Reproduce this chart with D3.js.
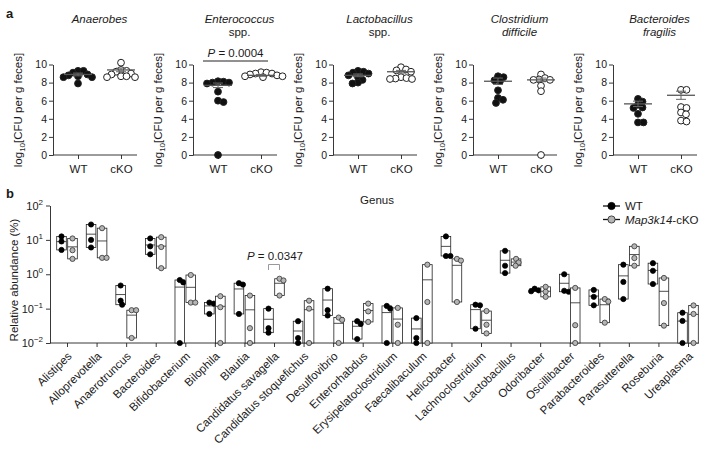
<!DOCTYPE html>
<html><head><meta charset="utf-8">
<script src="https://cdn.jsdelivr.net/npm/d3@7"></script>
<style>
body{margin:0;background:#fff;}
text{font-family:"Liberation Sans",Arial,Helvetica,sans-serif;fill:#1a1a1a;}
</style></head><body>
<svg id="c" width="720" height="453"></svg>
<script>
// ---------- Panel a data ----------
const aTitles = [["Anaerobes"], ["Enterococcus", "spp."], ["Lactobacillus", "spp."], ["Clostridium", "difficile"], ["Bacteroides", "fragilis"]];
const aGroups = ["WT", "cKO"];
const aTicks = [0, 2, 4, 6, 8, 10];
const aWT = [
  [9.3, 9.3, 9.1, 8.9, 8.8, 8.7, 8.6, 8.6, 7.9],
  [8.1, 8.0, 8.0, 7.9, 8.15, 7.0, 6.0, 5.85, 0.0],
  [9.3, 9.2, 9.1, 9.0, 8.8, 8.6, 8.3, 8.0, 7.9],
  [8.6, 8.7, 8.15, 8.25, 7.15, 6.3, 6.1, 5.75],
  [6.2, 5.9, 5.55, 5.25, 5.2, 4.55, 3.6, 3.6]
];
const aKO = [
  [10.2, 9.4, 9.3, 9.2, 9.0, 8.9, 8.7, 8.7, 8.6, 8.6],
  [9.15, 9.0, 9.0, 9.1, 8.9, 8.7, 8.7, 8.6, 8.8],
  [9.7, 9.45, 9.35, 9.2, 8.6, 8.5, 8.45, 8.4, 8.4],
  [8.9, 8.5, 8.35, 8.3, 8.3, 7.65, 7.05, 0.0],
  [7.2, 7.2, 5.2, 5.3, 4.5, 4.7, 3.7, 3.8]
];
const aWTmean = [8.9, 7.7, 8.8, 8.15, 5.65];
const aKOmean = [9.4, 8.8, 9.2, 8.3, 6.6];
const aWTsem = [0.15, 0.25, 0.15, 0.35, 0.3];
const aKOsem = [0.2, 0.1, 0.15, 0.2, 0.45];
const aPvalue = ["", "0.0004", "", "", ""];

// ---------- Panel b data ----------
const genera = ["Alistipes", "Alloprevotella", "Anaerotruncus", "Bacteroides", "Bifidobacterium", "Bilophila", "Blautia",
  "Candidatus savagella", "Candidatus stoquefichus", "Desulfovibrio", "Enterorhabdus", "Erysipelatoclostridium",
  "Faecalibaculum", "Helicobacter", "Lachnoclostridium", "Lactobacillus", "Odoribacter", "Oscillibacter",
  "Parabacteroides", "Parasutterella", "Roseburia", "Ureaplasma"];
const bWT = [
  [12.6, 9.0, 5.1], [28, 10, 6], [0.47, 0.17, 0.13], [11, 6.5, 3.8], [0.68, 0.58, 0.01], [0.15, 0.14, 0.07],
  [0.55, 0.5, 0.07], [0.1, 0.02, 0.027], [0.043, 0.014, 0.01], [0.38, 0.09, 0.063], [0.043, 0.036, 0.013],
  [0.12, 0.1, 0.01], [0.053, 0.014, 0.01], [12.6, 3.4, 3.4], [0.13, 0.125, 0.026], [4.8, 1.77, 1.08],
  [0.38, 0.32, 0.34], [1.0, 0.31, 0.33], [0.35, 0.22, 0.125], [1.9, 0.6, 0.19], [2.1, 1.26, 0.52], [0.076, 0.044, 0.01]
];
const bKO = [
  [11, 5, 2.8], [21.9, 3, 3], [0.09, 0.09, 0.014], [12, 6.2, 1.5], [0.95, 0.15, 0.15], [0.23, 0.11, 0.01],
  [0.24, 0.027, 0.01], [0.74, 0.66, 0.24], [0.17, 0.1, 0.01], [0.055, 0.047, 0.01], [0.14, 0.083, 0.041],
  [0.105, 0.034, 0.01], [1.9, 0.156, 0.01], [2.8, 2.5, 0.156], [0.085, 0.034, 0.019], [2.8, 2.2, 1.77],
  [0.43, 0.31, 0.22], [0.4, 0.033, 0.01], [0.19, 0.16, 0.039], [6.5, 2.95, 1.77], [0.78, 0.145, 0.032], [0.124, 0.07, 0.01]
];
const bTicks = [0.01, 0.1, 1, 10, 100];
const bTickExp = ["\u22122", "\u22121", "0", "1", "2"];
const bPvalue = { genus: "Candidatus savagella", text: "0.0347" };
const legendLabels = ["WT", "Map3k14-cKO"];

// ---------- drawing ----------
const svg = d3.select("#c");

function swarm(vals, y, cx, minDist, step) {
  const placed = [];
  const order = vals.map((v, i) => ({ v, i })).sort((a, b) => b.v - a.v);
  order.forEach(o => {
    const py = y(o.v);
    let px = cx;
    for (let k = 0; k < 400; k++) {
      const off = k === 0 ? 0 : (k % 2 === 1 ? 1 : -1) * Math.ceil(k / 2) * step;
      const cand = cx + off;
      if (placed.every(p => (p.x - cand) ** 2 + (p.y - py) ** 2 >= minDist ** 2)) { px = cand; break; }
    }
    placed.push({ x: px, y: py, v: o.v });
  });
  return placed;
}

// Panel labels
svg.append("text").attr("x", 6).attr("y", 18).attr("font-weight", "bold").attr("font-size", 13).text("a");
svg.append("text").attr("x", 6).attr("y", 198).attr("font-weight", "bold").attr("font-size", 13).text("b");

const yA = d3.scaleLinear().domain([0, 10]).range([155, 64.5]);
const xA = d3.scalePoint().domain(aGroups).range([25, 68]);

aTitles.forEach((t, i) => {
  const g = svg.append("g").attr("transform", `translate(${53 + 140 * i},0)`);
  const ya = g.append("g").call(d3.axisLeft(yA).tickValues(aTicks).tickSize(4).tickSizeOuter(0).tickPadding(2));
  ya.selectAll("text").attr("font-size", 10.5).style("font-family", "'Liberation Sans',Arial,sans-serif").attr("fill", "#1a1a1a");
  ya.selectAll("line,path").attr("stroke", "#222").attr("stroke-width", 0.9);
  g.append("line").attr("x1", 0).attr("x2", 84).attr("y1", 155).attr("y2", 155).attr("stroke", "#222").attr("stroke-width", 0.9);
  const xa = g.append("g").attr("transform", "translate(0,155)").call(d3.axisBottom(xA).tickSize(4).tickPadding(6));
  xa.select(".domain").remove();
  xa.selectAll("line").attr("stroke", "#222").attr("stroke-width", 0.9);
  xa.selectAll("text").attr("font-size", 11.5).style("font-family", "'Liberation Sans',Arial,sans-serif").attr("fill", "#1a1a1a");
  const yl = g.append("text").attr("transform", `translate(-31,110) rotate(-90)`).attr("text-anchor", "middle").attr("font-size", 11.5);
  yl.append("tspan").text("log");
  yl.append("tspan").attr("font-size", 8).attr("dy", 3).text("10");
  yl.append("tspan").attr("dy", -3).text("[CFU per g feces]");
  const cxm = (xA("WT") + xA("cKO")) / 2;
  t.forEach((line, j) => {
    g.append("text").attr("x", cxm).attr("y", 23 + j * 13).attr("text-anchor", "middle").attr("font-size", 11.5)
      .attr("font-style", line === "spp." ? "normal" : "italic").text(line);
  });
  if (aPvalue[i]) {
    g.append("line").attr("x1", 10).attr("x2", 75).attr("y1", 61).attr("y2", 61).attr("stroke", "#222").attr("stroke-width", 1);
    const pt = g.append("text").attr("x", 42.5).attr("y", 57).attr("text-anchor", "middle").attr("font-size", 11.5);
    pt.append("tspan").attr("font-style", "italic").text("P");
    pt.append("tspan").text(" = " + aPvalue[i]);
  }
  [[aWT[i], aWTmean[i], aWTsem[i], "WT"], [aKO[i], aKOmean[i], aKOsem[i], "cKO"]].forEach(([vals, m, s, grp]) => {
    const cx = xA(grp);
    const pts = swarm(vals, yA, cx, 5.2, 0.5);
    g.selectAll(null).data(pts).enter().append("circle")
      .attr("cx", d => d.x).attr("cy", d => d.y).attr("r", 3.4)
      .attr("fill", grp === "WT" ? "#111" : "#fff").attr("stroke", "#222").attr("stroke-width", 1);
    g.append("line").attr("x1", cx - 14).attr("x2", cx + 14).attr("y1", yA(m)).attr("y2", yA(m)).attr("stroke", "#555").attr("stroke-width", 1.3);
    g.append("line").attr("x1", cx).attr("x2", cx).attr("y1", yA(m - s)).attr("y2", yA(m + s)).attr("stroke", "#666").attr("stroke-width", 1);
    [m - s, m + s].forEach(v => g.append("line").attr("x1", cx - 5).attr("x2", cx + 5).attr("y1", yA(v)).attr("y2", yA(v)).attr("stroke", "#666").attr("stroke-width", 1));
  });
});

// ---------- Panel b ----------
const yB = d3.scaleLog().domain([0.01, 100]).range([343, 205.5]);
const xB = d3.scalePoint().domain(genera).range([67, 688]);
const gb = svg.append("g");
const yb = gb.append("g").attr("transform", "translate(50,0)").call(d3.axisLeft(yB).tickValues(bTicks).tickSize(4).tickSizeOuter(0).tickFormat(""));
yb.selectAll("line,path").attr("stroke", "#222").attr("stroke-width", 0.9);
bTicks.forEach((v, i) => {
  const t = gb.append("text").attr("x", 43).attr("y", yB(v) + 4).attr("text-anchor", "end").attr("font-size", 11);
  t.append("tspan").text("10");
  t.append("tspan").attr("font-size", 8).attr("dy", -5).text(bTickExp[i]);
});
gb.append("line").attr("x1", 50).attr("x2", 699).attr("y1", 343).attr("y2", 343).attr("stroke", "#222").attr("stroke-width", 0.9);
const xb = gb.append("g").attr("transform", "translate(0,343)").call(d3.axisBottom(xB).tickSize(4).tickFormat(""));
xb.select(".domain").remove();
xb.selectAll("line").attr("stroke", "#222").attr("stroke-width", 0.9);
genera.forEach(gn => {
  gb.append("text").attr("transform", `translate(${xB(gn) + 5.5},357) rotate(-44)`).attr("text-anchor", "end")
    .attr("font-size", 11.5).text(gn);
});
gb.append("text").attr("transform", "translate(18,280) rotate(-90)").attr("text-anchor", "middle").attr("font-size", 11.5).text("Relative abundance (%)");
gb.append("text").attr("x", 377).attr("y", 204).attr("text-anchor", "middle").attr("font-size", 11.5).text("Genus");

genera.forEach((gn, i) => {
  [[bWT[i], -5.5, "WT"], [bKO[i], 5.5, "cKO"]].forEach(([vals, off, grp]) => {
    const cx = xB(gn) + off;
    const mn = d3.min(vals), mx = d3.max(vals), mean = d3.mean(vals);
    gb.append("rect").attr("x", cx - 4.8).attr("width", 9.6).attr("y", yB(mx)).attr("height", yB(mn) - yB(mx))
      .attr("fill", "#fff").attr("stroke", "#222").attr("stroke-width", 0.8);
    gb.append("line").attr("x1", cx - 4.8).attr("x2", cx + 4.8).attr("y1", yB(mean)).attr("y2", yB(mean)).attr("stroke", "#222").attr("stroke-width", 0.8);
    const pts = swarm(vals, yB, cx, 4.2, 0.5);
    gb.selectAll(null).data(pts).enter().append("circle")
      .attr("cx", d => d.x).attr("cy", d => d.y).attr("r", 2.6)
      .attr("fill", grp === "WT" ? "#000" : "#b5b5b5").attr("stroke", grp === "WT" ? "#000" : "#333").attr("stroke-width", 0.8);
  });
});

{
  const bxp = xB(bPvalue.genus);
  gb.append("path").attr("d", `M${bxp - 5.5},270V264.5H${bxp + 5.5}V270`).attr("fill", "none").attr("stroke", "#999").attr("stroke-width", 1);
  const pt = gb.append("text").attr("x", 247).attr("y", 260).attr("font-size", 11.5);
  pt.append("tspan").attr("font-style", "italic").text("P");
  pt.append("tspan").text(" = " + bPvalue.text);
}

legendLabels.forEach((lab, i) => {
  const ly = 206 + i * 13.5;
  gb.append("line").attr("x1", 603).attr("x2", 620).attr("y1", ly).attr("y2", ly).attr("stroke", "#111").attr("stroke-width", 1.3);
  gb.append("circle").attr("cx", 611.5).attr("cy", ly).attr("r", 3.6)
    .attr("fill", i === 0 ? "#000" : "#b5b5b5").attr("stroke", i === 0 ? "#000" : "#333").attr("stroke-width", 0.9);
  const t = gb.append("text").attr("x", 625).attr("y", ly + 4).attr("font-size", 11.5);
  if (i === 0) t.text(lab);
  else {
    const parts = lab.split("-");
    t.append("tspan").attr("font-style", "italic").text(parts[0]);
    t.append("tspan").text("-" + parts[1]);
  }
});
</script>
</body></html>
